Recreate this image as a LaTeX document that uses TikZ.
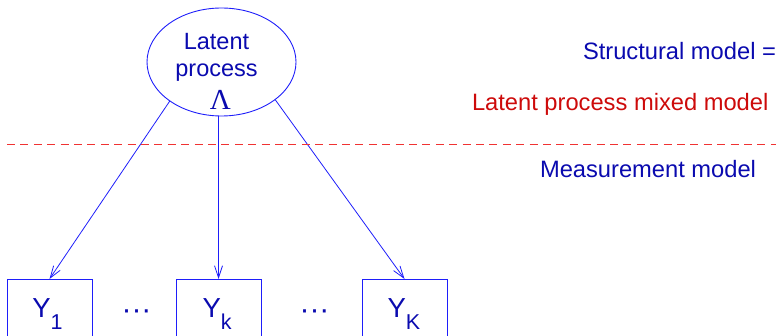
\documentclass[tikz,border=0pt]{standalone}
\usepackage{fontspec}
\setmainfont{Liberation Sans}
\newfontfamily\serifgreek{Liberation Serif}
\usetikzlibrary{shapes.geometric,arrows.meta}
\definecolor{linkblue}{RGB}{30,30,250}
\definecolor{textblue}{RGB}{10,10,175}
\definecolor{textred}{RGB}{205,10,10}
\definecolor{sepred}{RGB}{240,50,50}
\newcommand\ylabel[1]{Y\raisebox{-12pt}{\fontsize{21.5}{21.5}\selectfont #1}}
\tikzset{
  every node/.style={inner sep=0pt, outer sep=0pt},
  latentbox/.style={ellipse, draw=linkblue, line width=0.9pt,
    minimum width=149pt, minimum height=108pt},
  obsbox/.style={rectangle, draw=linkblue, line width=0.9pt,
    minimum width=85pt, minimum height=100pt, anchor=north},
  obslabel/.style={text=textblue, font=\fontsize{27.5}{27.5}\selectfont, anchor=base west},
  dotslabel/.style={text=textblue, font=\fontsize{30}{30}\selectfont, anchor=base},
  inlabel/.style={text=textblue, font=\fontsize{23.5}{27}\selectfont, anchor=base},
  sidelabel/.style={font=\fontsize{23.7}{27}\selectfont, anchor=base west},
  link/.style={draw=linkblue, line width=0.8pt, -{Straight Barb[length=12pt,width=8pt]}},
  separator/.style={draw=sepred, line width=0.9pt, dash pattern=on 8pt off 5.4pt}
}
\begin{document}
\begin{tikzpicture}[x=1pt,y=-1pt]
  \clip (0,0) rectangle (776,336);

  % latent process
  \node[latentbox] (lat) at (221.5,62) {};
  \node[inlabel] (latA) at (216.5,50) {Latent};
  \node[inlabel] (latB) at (216.5,77) {process};
  \node[text=textblue, anchor=base, font=\serifgreek\fontsize{29}{29}\selectfont] (lam) at (220.5,110) {Λ};

  % observed outcomes
  \node[obsbox] (y1) at (49.5,279) {};
  \node[obsbox] (yk) at (218.5,279) {};
  \node[obsbox] (yK) at (404.5,279) {};
  \node[obslabel] (y1t) at (32.3,318) {\ylabel{1}};
  \node[obslabel] (ykt) at (202.6,318) {\ylabel{k}};
  \node[obslabel] (yKt) at (387.6,318) {\ylabel{K}};
  \node[dotslabel] (d1) at (136.5,320) {···};
  \node[dotslabel] (d2) at (314.5,320) {···};

  % links
  \draw[link] (lat.217) -- (y1.north);
  \draw[link] (yk.north |- lat.south) -- (yk.north);
  \draw[link] (lat.325) -- (yK.north);

  % separation between the two parts of the model
  \coordinate (sepL) at (7,144);
  \coordinate (sepR) at (780,144);
  \draw[separator] (sepL) -- (sepR);

  % model descriptions
  \node[sidelabel, text=textblue] (struct) at (583,60) {Structural model =};
  \node[sidelabel, text=textred] (lpmm) at (472,111) {Latent process mixed model};
  \node[sidelabel, text=textblue] (meas) at (540,178) {Measurement model};
\end{tikzpicture}
\end{document}
